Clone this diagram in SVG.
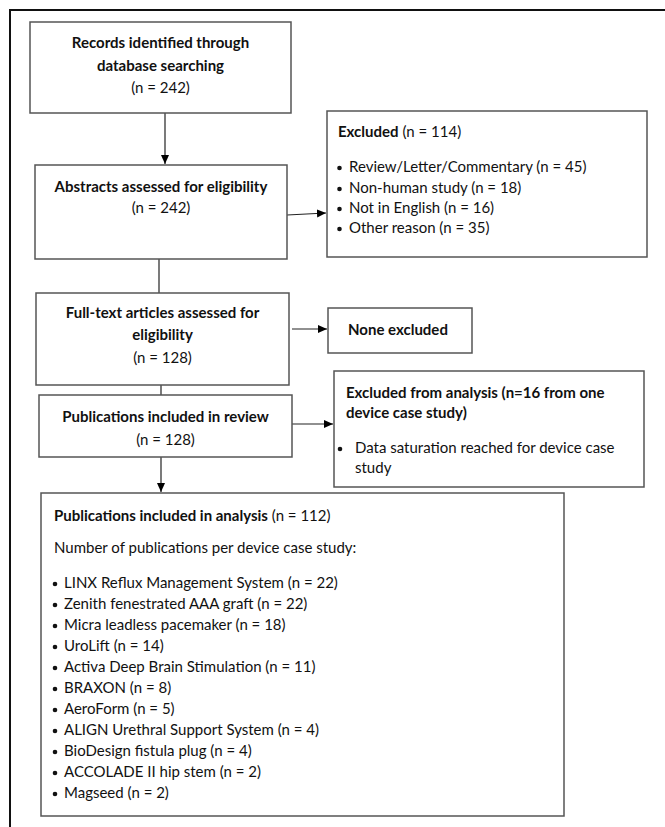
<svg xmlns="http://www.w3.org/2000/svg" width="665" height="827" viewBox="0 0 665 827">
<style>
.box{fill:#fff;stroke:#555;stroke-width:1.5}
.t{font-family:Lato,"Liberation Sans",sans-serif;font-size:15px;fill:#111}
.b{font-weight:bold}
.c{text-anchor:middle}
.con{stroke:#222;stroke-width:1.2;fill:none}
</style>
<defs>
<marker id="ah" markerWidth="10" markerHeight="10" refX="9" refY="5" orient="auto" markerUnits="userSpaceOnUse">
<path d="M0,1 L9,5 L0,9 Z" fill="#000"/>
</marker>
</defs>
<rect width="665" height="827" fill="#fff"/>
<path d="M10,830 V10 H670" fill="none" stroke="#111" stroke-width="2"/>
<g id="connectors">
<line class="con" x1="165" y1="113" x2="165" y2="164" marker-end="url(#ah)"/>
<line class="con" x1="287" y1="215" x2="326" y2="213" marker-end="url(#ah)"/>
<line class="con" x1="159" y1="259" x2="159" y2="293"/>
<line class="con" x1="292" y1="329" x2="327" y2="329" marker-end="url(#ah)"/>
<line class="con" x1="161" y1="385" x2="161" y2="395"/>
<line class="con" x1="292" y1="424" x2="333" y2="424" marker-end="url(#ah)"/>
<line class="con" x1="161" y1="457" x2="161" y2="492" marker-end="url(#ah)"/>
</g>
<g id="records">
<rect class="box" x="30" y="22" width="261" height="91"/>
<text class="t b c" x="160.5" y="48">Records identified through</text>
<text class="t b c" x="160.5" y="71">database searching</text>
<text class="t c" x="160.5" y="93">(n = 242)</text>
</g>
<g id="abstracts">
<rect class="box" x="35" y="165" width="252" height="94"/>
<text class="t b c" x="161" y="192">Abstracts assessed for eligibility</text>
<text class="t c" x="161" y="213">(n = 242)</text>
</g>
<g id="excluded">
<rect class="box" x="327" y="111" width="320" height="146"/>
<text class="t" x="338" y="137"><tspan class="b" font-weight="bold">Excluded</tspan> (n = 114)</text>
<g fill="#111">
<circle cx="339.5" cy="168" r="2.3"/><circle cx="339.5" cy="189" r="2.3"/><circle cx="339.5" cy="209" r="2.3"/><circle cx="339.5" cy="229" r="2.3"/>
</g>
<text class="t" x="349" y="172">Review/Letter/Commentary (n = 45)</text>
<text class="t" x="349" y="193">Non-human study (n = 18)</text>
<text class="t" x="349" y="213">Not in English (n = 16)</text>
<text class="t" x="349" y="233">Other reason (n = 35)</text>
</g>
<g id="fulltext">
<rect class="box" x="36" y="293" width="253" height="92"/>
<text class="t b c" x="162.5" y="318">Full-text articles assessed for</text>
<text class="t b c" x="162.5" y="340">eligibility</text>
<text class="t c" x="162.5" y="363">(n = 128)</text>
</g>
<g id="none-excluded">
<rect class="box" x="328" y="308" width="144" height="45"/>
<text class="t b" x="348" y="335">None excluded</text>
</g>
<g id="review">
<rect class="box" x="39" y="395" width="253" height="62"/>
<text class="t b c" x="165.5" y="422">Publications included in review</text>
<text class="t c" x="165.5" y="445">(n = 128)</text>
</g>
<g id="excluded-analysis">
<rect class="box" x="334" y="371" width="310" height="116"/>
<text class="t b" x="346" y="398">Excluded from analysis (n=16 from one</text>
<text class="t b" x="346" y="418">device case study)</text>
<circle cx="340" cy="449" r="2.3" fill="#111"/>
<text class="t" x="355" y="453">Data saturation reached for device case</text>
<text class="t" x="355" y="473">study</text>
</g>
<g id="analysis">
<rect class="box" x="41" y="493" width="523" height="323"/>
<text class="t" x="54" y="521"><tspan font-weight="bold">Publications included in analysis</tspan> (n = 112)</text>
<text class="t" x="54" y="553">Number of publications per device case study:</text>
<g fill="#111">
<circle cx="55" cy="584" r="2.3"/><circle cx="55" cy="605" r="2.3"/><circle cx="55" cy="626" r="2.3"/><circle cx="55" cy="647" r="2.3"/><circle cx="55" cy="668" r="2.3"/><circle cx="55" cy="689" r="2.3"/><circle cx="55" cy="710" r="2.3"/><circle cx="55" cy="731" r="2.3"/><circle cx="55" cy="752" r="2.3"/><circle cx="55" cy="773" r="2.3"/><circle cx="55" cy="794" r="2.3"/>
</g>
<text class="t" x="64" y="588">LINX Reflux Management System (n = 22)</text>
<text class="t" x="64" y="609">Zenith fenestrated AAA graft (n = 22)</text>
<text class="t" x="64" y="630">Micra leadless pacemaker (n = 18)</text>
<text class="t" x="64" y="651">UroLift (n = 14)</text>
<text class="t" x="64" y="672">Activa Deep Brain Stimulation (n = 11)</text>
<text class="t" x="64" y="693">BRAXON (n = 8)</text>
<text class="t" x="64" y="714">AeroForm (n = 5)</text>
<text class="t" x="64" y="735">ALIGN Urethral Support System (n = 4)</text>
<text class="t" x="64" y="756">BioDesign fistula plug (n = 4)</text>
<text class="t" x="64" y="777">ACCOLADE II hip stem (n = 2)</text>
<text class="t" x="64" y="798">Magseed (n = 2)</text>
</g>
</svg>
